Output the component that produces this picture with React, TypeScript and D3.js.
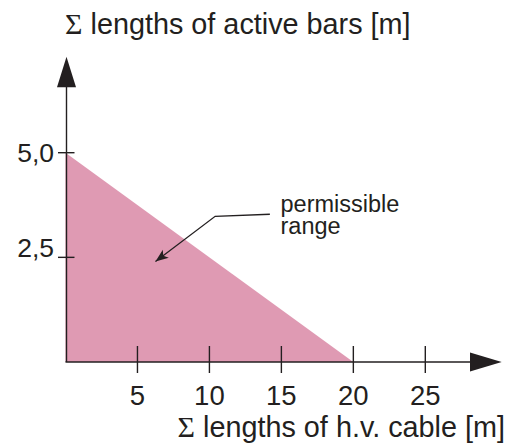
import React from "react";
import * as d3 from "d3";

const xTicks = [5, 10, 15, 20, 25];
const yTicks = [2.5, 5.0];
const yTickLabels = ["2,5", "5,0"];
const regionX = [0, 20, 0];
const regionY = [5.0, 0, 0];
const xTitle = "lengths of h.v. cable [m]";
const yTitle = "lengths of active bars [m]";
const noteLines = ["permissible", "range"];

const W = 509, H = 448;
const INK = "#231f20";
const FONT = "'Liberation Sans', Arial, sans-serif";
const SERIF = "'Liberation Serif', 'Times New Roman', serif";

export default function App() {
  const x = d3.scaleLinear().domain([0, 25]).range([65.5, 425.3]);
  const y = d3.scaleLinear().domain([0, 5]).range([362, 152.7]);
  const x0 = x(0), y0 = y(0);
  const pts: [number, number][] = regionX.map((v, i) => [x(v), y(regionY[i])]);
  const area = d3.line()(pts) + "Z";
  const leader = d3.line()([[x(14.2), y(3.53)], [x(10.4), y(3.48)], [x(6.25), y(2.4)]]);
  const tip: [number, number] = [x(6.25), y(2.4)];
  const from: [number, number] = [x(10.4), y(3.48)];
  const ang = Math.atan2(tip[1] - from[1], tip[0] - from[0]);
  const aL = 13, aW = 5;
  const head = [
    tip,
    [tip[0] - aL * Math.cos(ang) + aW * Math.sin(ang), tip[1] - aL * Math.sin(ang) - aW * Math.cos(ang)],
    [tip[0] - aL * 0.75 * Math.cos(ang), tip[1] - aL * 0.75 * Math.sin(ang)],
    [tip[0] - aL * Math.cos(ang) - aW * Math.sin(ang), tip[1] - aL * Math.sin(ang) + aW * Math.cos(ang)],
  ] as [number, number][];
  const yLabelDy = [0, 9];
  return (
    <svg width={W} height={H} style={{ position: "absolute", left: 0, top: 0, background: "#fff" }}>
      <path d={area} fill="#df9ab3" />
      <line x1={x0 + 1} x2={x0 + 1} y1={y0} y2={84} stroke={INK} strokeWidth={1.4} />
      <path d={d3.line()([[x0 + 1, 56.7], [x0 + 10.5, 87.3], [x0 - 8.5, 87.3]]) + "Z"} fill={INK} />
      <line x1={x0} x2={474} y1={y0} y2={y0} stroke={INK} strokeWidth={1.4} />
      <path d={d3.line()([[501.7, y0], [470, y0 - 9.5], [470, y0 + 9.5]]) + "Z"} fill={INK} />
      {xTicks.map((t) => (
        <g key={t}>
          <line x1={x(t)} x2={x(t)} y1={y0 - 16} y2={y0 + 11} stroke={INK} strokeWidth={1.4} />
          <text x={x(t)} y={404.5} textAnchor="middle" fontFamily={FONT} fontSize={27.5} fill={INK}>{t}</text>
        </g>
      ))}
      {yTicks.map((t, i) => (
        <g key={t}>
          <line x1={x0 - 7.5} x2={x0 + 9} y1={y(t)} y2={y(t)} stroke={INK} strokeWidth={1.4} />
          <text x={54} y={y(t) + yLabelDy[i]} textAnchor="end" fontFamily={FONT} fontSize={26.5} fill={INK}>{yTickLabels[i]}</text>
        </g>
      ))}
      <text x={65} y={34} fontFamily={FONT} fontSize={28.8} fill={INK}>
        <tspan fontFamily={SERIF} fontSize={30}>Σ</tspan>
        <tspan> {yTitle}</tspan>
      </text>
      <text x={505} y={436.7} textAnchor="end" fontFamily={FONT} fontSize={28.8} fill={INK}>
        <tspan fontFamily={SERIF} fontSize={30}>Σ</tspan>
        <tspan> {xTitle}</tspan>
      </text>
      <path d={leader ?? ""} fill="none" stroke={INK} strokeWidth={1.3} />
      <path d={d3.line()(head) + "Z"} fill={INK} />
      {noteLines.map((s, i) => (
        <text key={s} x={280.5} y={212.3 + i * 21.5} fontFamily={FONT} fontSize={23.5} fill={INK}>{s}</text>
      ))}
    </svg>
  );
}
